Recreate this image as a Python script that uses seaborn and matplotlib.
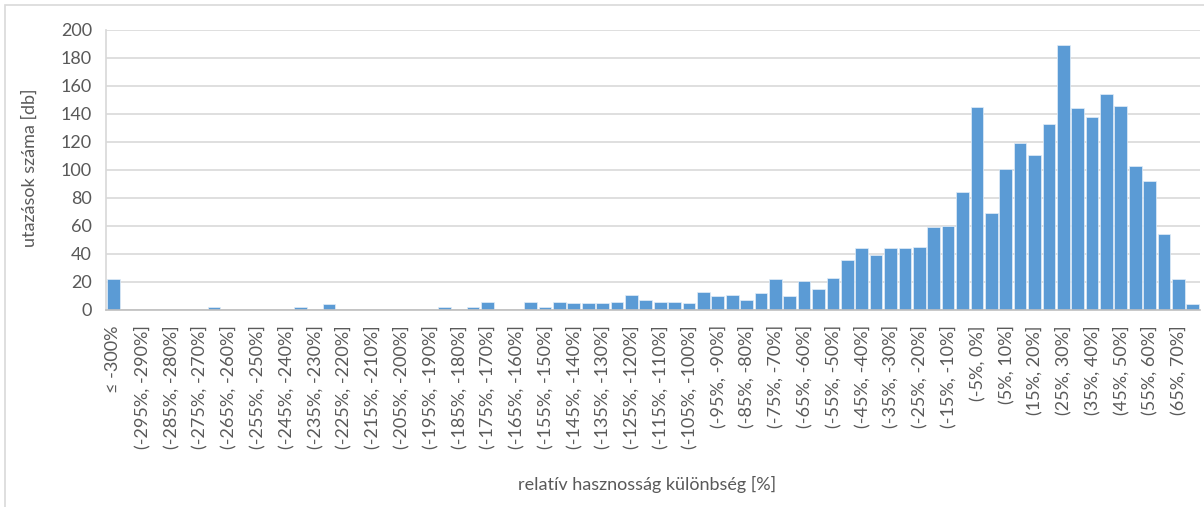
import matplotlib
matplotlib.use("Agg")
import matplotlib.pyplot as plt
import matplotlib.patches as patches
import pandas as pd
import seaborn as sns

# bins: "<= -300%" then 5% wide intervals up to (70%, 75%]
bin_starts = list(range(-300, 75, 5))
categories = ["≤ -300%"] + [f"({lo}%, {lo + 5}%]" for lo in bin_starts]

# number of trips per bin
counts = [
    22, 0, 0, 0, 0, 0, 0, 2, 0, 0,
    0, 0, 0, 2, 0, 4, 0, 0, 0, 0,
    0, 0, 0, 2, 0, 2, 6, 0, 0, 6,
    2, 6, 5, 5, 5, 6, 11, 7, 6, 6,
    5, 13, 10, 11, 7, 12, 22, 10, 21, 15,
    23, 36, 44, 39, 44, 44, 45, 59, 60, 84,
    145, 69, 101, 119, 111, 133, 189, 144, 138, 154,
    146, 103, 92, 54, 22, 4,
]

df = pd.DataFrame({"bin": categories, "count": counts})

sns.set_theme(style="white")
plt.rcParams["font.family"] = ["Lato", "DejaVu Sans"]

text_color = "#595959"
grid_color = "#D9D9D9"

fig = plt.figure(figsize=(12.04, 5.07), dpi=100)
ax = fig.add_axes([106 / 1204, 1 - 310 / 507, 1094 / 1204, 280 / 507])

sns.barplot(data=df, x="bin", y="count", color="#5B9BD5", saturation=1,
            width=0.88, edgecolor="#E3EEF8", linewidth=0.5, ax=ax)

ax.set_ylim(0, 200)
ax.set_yticks(range(0, 201, 20))
ax.set_xlim(-0.5, len(categories) - 0.5)
ax.yaxis.grid(True, color=grid_color, linewidth=1.2)
ax.set_axisbelow(True)

# only every second category is labelled
idx = list(range(0, len(categories), 2))
ax.set_xticks(idx)
ax.set_xticklabels([categories[i] for i in idx], rotation=90, va="top", ha="center")

ax.tick_params(axis="both", length=0, labelsize=13, colors=text_color)
ax.tick_params(axis="y", pad=10)
ax.tick_params(axis="x", pad=11)

for side in ["top", "right"]:
    ax.spines[side].set_visible(False)
ax.spines["left"].set_color(grid_color)
ax.spines["bottom"].set_color("#BFBFBF")
ax.spines["bottom"].set_linewidth(1.2)

ax.set_xlabel("relatív hasznosság különbség [%]", fontsize=13, color=text_color)
ax.set_ylabel("utazások száma [db]", fontsize=13, color=text_color)
ax.xaxis.set_label_coords(0.4945, -0.593)
ax.yaxis.set_label_coords(-0.062, 0.507)

# chart area border
fig.patches.append(patches.Rectangle((5 / 1204, -0.1), 1.2, 1.1 - 5 / 507 + 0.0,
                                     transform=fig.transFigure, fill=False,
                                     edgecolor=grid_color, linewidth=1.2))

fig.savefig("out.png", dpi=100)
